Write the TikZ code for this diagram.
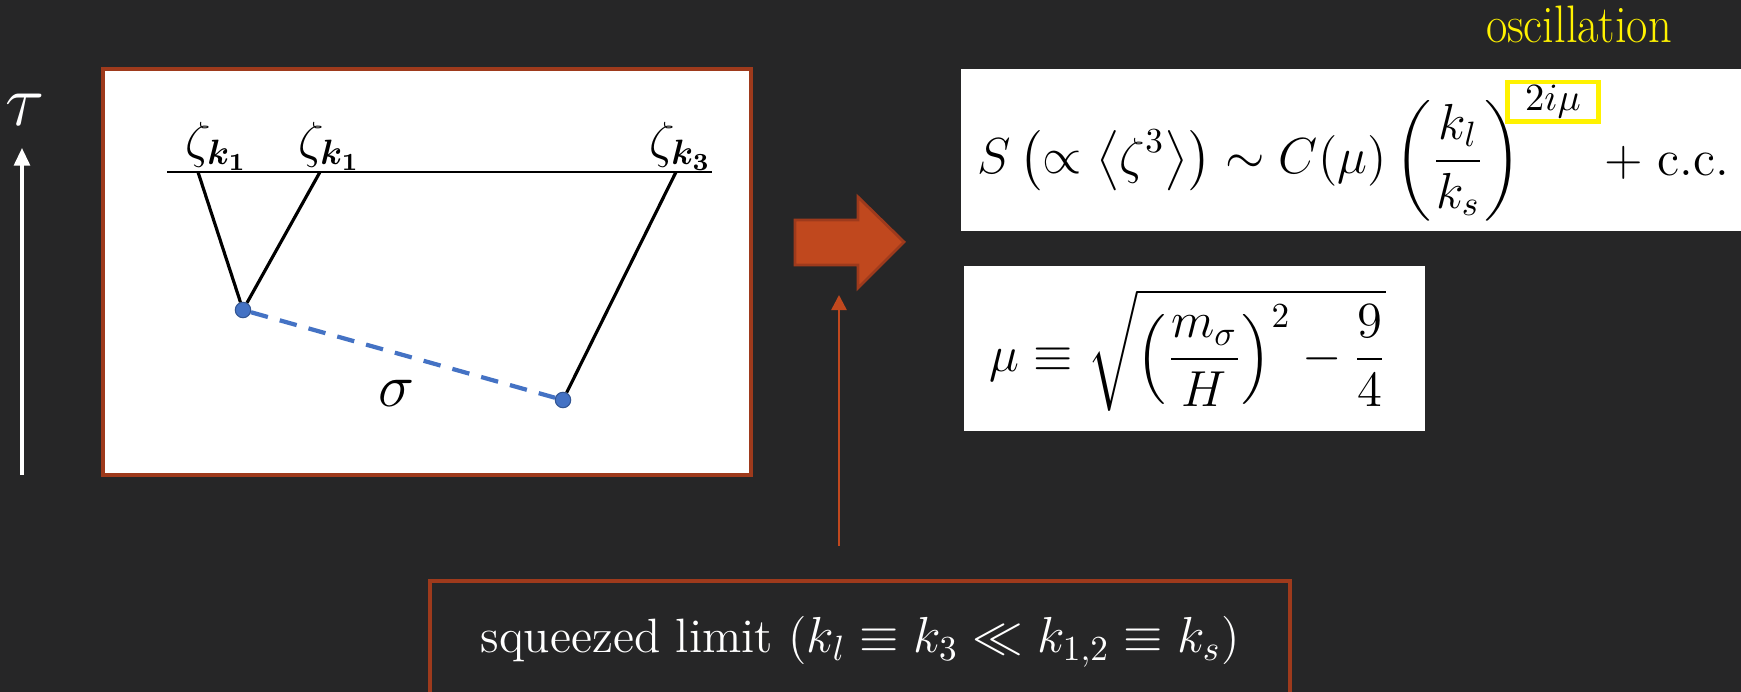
\documentclass[tikz,border=0pt]{standalone}
\usepackage{amsmath,amssymb,bm}
\usetikzlibrary{arrows.meta}

\definecolor{bgdark}{RGB}{38,38,39}
\definecolor{rustline}{RGB}{158,58,28}
\definecolor{rustfill}{RGB}{192,72,30}
\definecolor{dotblue}{RGB}{68,114,196}

\tikzset{
  framebox/.style={draw=rustline, line width=1.1pt, fill=white},
  leg/.style={black, line width=0.9pt},
  vertex/.style={circle, fill=dotblue, draw=dotblue!75!black, line width=0.3pt,
    inner sep=0pt, minimum size=4.4pt},
  prop/.style={dotblue, line width=1.2pt, dash pattern=on 5pt off 3.5pt},
  zlabel/.style={font=\fontsize{14.5}{16}\selectfont, inner sep=0pt},
  eqbox/.style={fill=white},
  eqtext/.style={font=\fontsize{14.3}{16}\selectfont, inner sep=0pt},
  limitbox/.style={draw=rustline, line width=1.1pt, text=white,
    minimum width=244.7pt, minimum height=34.7pt,
    font=\fontsize{13.7}{16}\selectfont},
}

\begin{document}
\begin{tikzpicture}[x=0.01cm, y=-0.01cm]
  \fill[bgdark] (0,0) rectangle (1741,692);
  \useasboundingbox (0,0) rectangle (1741,692);

  % time axis
  \coordinate (tbot) at (22,475);
  \coordinate (ttop) at (22,148);
  \draw[white, line width=0.9pt, -{Triangle[width=4.5pt,length=5pt]}] (tbot) -- (ttop);
  \node[text=white, font=\fontsize{22}{24}\selectfont] (tau) at (25,110) {$\tau$};

  % exchange diagram
  \draw[framebox] (103,69) rectangle (751,475);
  \draw[line width=0.5pt] (167,172) -- (712,172);
  \coordinate (e1) at (198,172);
  \coordinate (e2) at (320,172);
  \coordinate (e3) at (676,172);
  \node[zlabel] (z1) at (217,146) {$\zeta_{\bm{k_1}}$};
  \node[zlabel] (z2) at (330,146) {$\zeta_{\bm{k_1}}$};
  \node[zlabel] (z3) at (681,146) {$\zeta_{\bm{k_3}}$};
  \node[vertex] (v1) at (243,310) {};
  \node[vertex] (v2) at (563,400) {};
  \draw[leg] (e1) -- (v1);
  \draw[leg] (e2) -- (v1);
  \draw[leg] (e3) -- (v2);
  \draw[prop] (v1) -- (v2);
  \node[zlabel, font=\fontsize{16}{18}\selectfont] (sig) at (396,393) {$\sigma$};

  % big arrow
  \draw[rustline, fill=rustfill, line width=0.8pt]
    (795,220) -- (858,220) -- (858,197) -- (904,242) -- (858,288)
    -- (858,265) -- (795,265) -- cycle;

  % bispectrum
  \fill[eqbox] (961,69) rectangle (1745,231);
  \node[eqtext, anchor=west] (bisp) at (977,161)
    {$\displaystyle S\left(\propto\left\langle\zeta^3\right\rangle\right)\sim C(\mu)\left(\frac{k_l}{k_s}\right)$};
  \node[draw=yellow, line width=1.4pt, minimum width=26pt, minimum height=10pt,
    inner sep=1pt, font=\fontsize{11}{12}\selectfont] (expo) at (1553,102) {$2i\mu$};
  \node[eqtext] (cc) at (1667,163) {$+\;\mathrm{c.c.}$};
  \node[text=yellow, font=\fontsize{15}{17}\selectfont, xscale=0.88] (osc) at (1579,24) {oscillation};

  % mass parameter
  \fill[eqbox] (964,266) rectangle (1425,431);
  \node[eqtext, font=\fontsize{14.2}{16}\selectfont, anchor=west] (mudef) at (989,350)
    {$\displaystyle \mu\equiv\sqrt{\left(\frac{m_\sigma}{H}\right)^2-\frac{9}{4}}$};

  % squeezed limit
  \node[limitbox] (limit) at (860,642) {squeezed limit ($k_l\equiv k_3\ll k_{1,2}\equiv k_s$)};
  \coordinate (upfrom) at (839,546);
  \coordinate (upto) at (839,295);
  \draw[rustfill, line width=0.7pt, -{Triangle[width=4.3pt,length=4.3pt]}] (upfrom) -- (upto);
\end{tikzpicture}
\end{document}
